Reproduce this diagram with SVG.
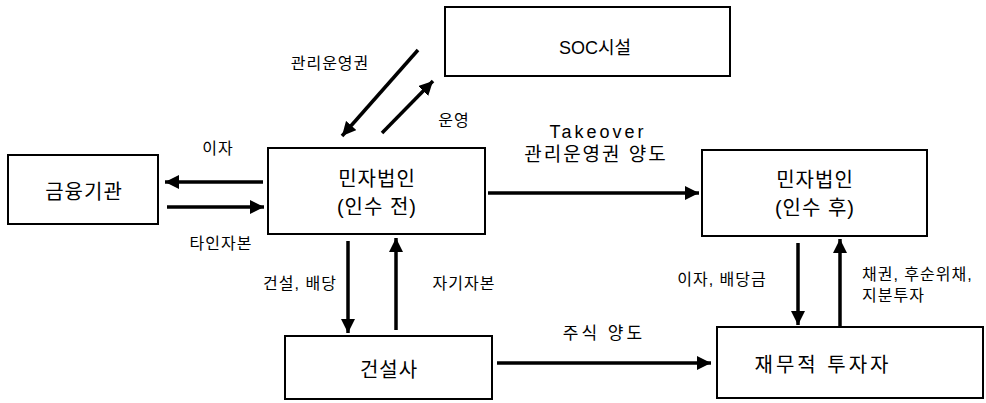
<svg xmlns="http://www.w3.org/2000/svg" width="986" height="403" viewBox="0 0 986 403">
<style>
.box{fill:#fff;stroke:#000;stroke-width:2}
.t{font-family:"Liberation Sans","Noto Sans CJK KR",sans-serif;fill:#000;text-anchor:middle}
.n{font-size:20px;letter-spacing:1px}
.l{font-size:16px;letter-spacing:1px}
.a{stroke:#000;stroke-width:3.5;fill:none;marker-end:url(#ah)}
</style>
<defs>
<marker id="ah" markerUnits="userSpaceOnUse" markerWidth="16" markerHeight="14" refX="14" refY="7" orient="auto">
<path d="M0,0 L14,7 L0,14 Z" fill="#000"/>
</marker>
</defs>
<rect width="986" height="403" fill="#fff"/>
<g id="soc"><rect class="box" x="445" y="7" width="285" height="69"/><text class="t" style="font-size:18px" x="595" y="54">SOC시설</text></g>
<g id="bank"><rect class="box" x="8" y="155" width="150" height="69"/><text class="t n" x="84" y="199">금융기관</text></g>
<g id="spc-before"><rect class="box" x="268" y="148" width="217" height="86"/><text class="t n" x="377" y="186">민자법인</text><text class="t n" x="377" y="214">(인수 전)</text></g>
<g id="spc-after"><rect class="box" x="702" y="150" width="225" height="86"/><text class="t n" x="815" y="187">민자법인</text><text class="t n" x="815" y="215">(인수 후)</text></g>
<g id="builder"><rect class="box" x="285" y="336" width="207" height="63"/><text class="t n" x="389" y="377">건설사</text></g>
<g id="fi"><rect class="box" x="717" y="327" width="266" height="71"/><text class="t n" x="823" y="372" style="text-anchor:middle;letter-spacing:3px">재무적 투자자</text></g>
<g id="connectors">
<line class="a" x1="263" y1="182" x2="165" y2="182"/>
<line class="a" x1="167" y1="207" x2="264" y2="207"/>
<line class="a" x1="418" y1="50" x2="342" y2="136"/>
<line class="a" x1="382" y1="133" x2="433" y2="81"/>
<line class="a" x1="488" y1="193" x2="699" y2="193"/>
<line class="a" x1="348" y1="241" x2="348" y2="333"/>
<line class="a" x1="396" y1="330" x2="396" y2="238"/>
<line class="a" x1="497" y1="363" x2="711" y2="363"/>
<line class="a" x1="798" y1="243" x2="798" y2="325"/>
<line class="a" x1="840" y1="326" x2="840" y2="239"/>
</g>
<g id="labels">
<text class="t l" x="330" y="69">관리운영권</text>
<text class="t l" x="454" y="126">운영</text>
<text class="t l" x="218" y="154">이자</text>
<text class="t l" x="221" y="249">타인자본</text>
<text class="t l" x="300" y="289">건설, 배당</text>
<text class="t l" x="464" y="289">자기자본</text>
<text class="t" style="font-size:18px;letter-spacing:3px" x="598" y="138">Takeover</text>
<text class="t" style="font-size:19px;letter-spacing:2px" x="596" y="161">관리운영권 양도</text>
<text class="t" style="font-size:17px;letter-spacing:3px" x="604" y="339">주식 양도</text>
<text class="t l" x="722" y="285">이자, 배당금</text>
<text class="t l" x="862" y="280" style="text-anchor:start">채권, 후순위채,</text>
<text class="t l" x="862" y="301" style="text-anchor:start">지분투자</text>
</g>
</svg>
